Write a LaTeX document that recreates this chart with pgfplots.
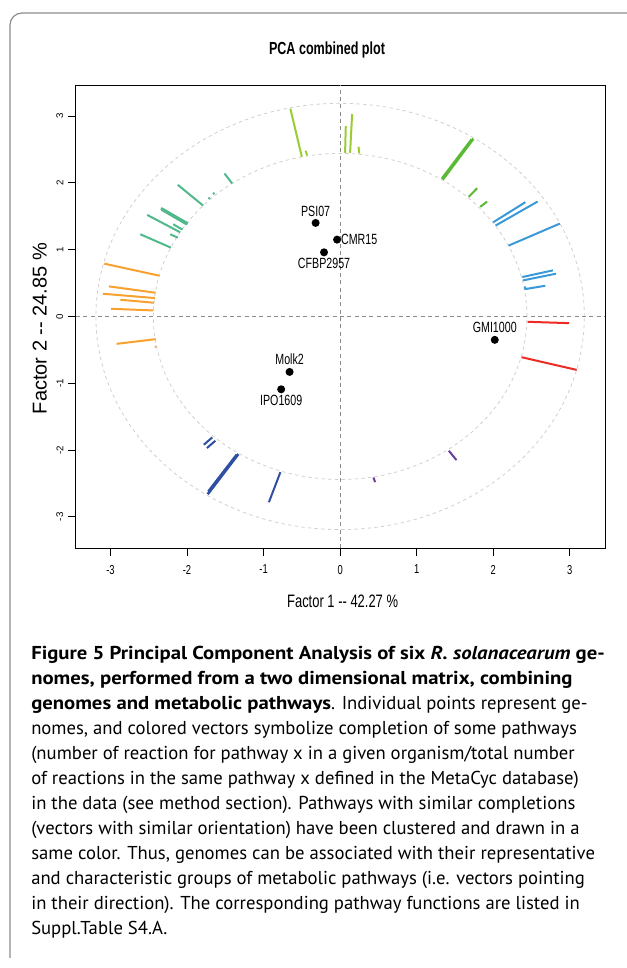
\documentclass[border=0pt]{standalone}
\usepackage{pgfplots}
\pgfplotsset{compat=1.18}
\usepackage{fontspec}
\setmainfont{PT Sans}[BoldFeatures={FakeStretch=1.11}, BoldItalicFeatures={FakeStretch=1.11}]
\newfontfamily\rfont[FakeStretch=0.72]{Liberation Sans}
\newfontfamily\rfontn{Liberation Sans}
\definecolor{cYG}{HTML}{9ACD32}
\definecolor{cG}{HTML}{5CB936}
\definecolor{cB}{HTML}{3A9AD8}
\definecolor{cR}{HTML}{EE2A24}
\definecolor{cT}{HTML}{4FB98B}
\definecolor{cO}{HTML}{F8A12F}
\definecolor{cDB}{HTML}{2E4FA2}
\definecolor{cP}{HTML}{6A3D9A}
\definecolor{frame}{HTML}{8C8C8C}
\definecolor{circ}{HTML}{CFCFCF}
\definecolor{zline}{HTML}{8A8A8A}
\begin{document}
\begin{tikzpicture}
\useasboundingbox (0,0) rectangle (470.25pt,726pt);
\begin{axis}[
  at={(57pt,314.775pt)}, anchor=south west,
  scale only axis, width=396.75pt, height=347.25pt,
  xmin=-3.45, xmax=3.46, ymin=-3.47, ymax=3.46,
  axis line style={line width=0.75pt},
  tick align=outside, major tick length=6pt, tick pos=left,
  tick style={black, line width=0.6pt},
  xtick={-3,-2,-1,0,1,2,3}, xticklabels={-3,-2,-1,0,1,2,3},
  ytick={-3,-2,-1,0,1,2,3}, yticklabels={-3,-2,-1,0,1,2,3},
  xticklabel style={font=\rfont\fontsize{9.75}{10}\selectfont, yshift=-3pt},
  yticklabel style={font=\rfontn\fontsize{7.3}{8}\selectfont, rotate=90, anchor=south},
  every axis plot/.append style={line width=1.5pt},
]
% reference circles and zero lines
\draw[circ, line width=0.6pt, dash pattern=on 2.5pt off 2.5pt] (axis cs:0,0) ellipse [x radius=2.44, y radius=2.44];
\draw[circ, line width=0.6pt, dash pattern=on 2.5pt off 2.5pt] (axis cs:0,0) ellipse [x radius=3.19, y radius=3.19];
\draw[zline, line width=0.6pt, dash pattern=on 3pt off 2.5pt] (axis cs:0,-3.47) -- (axis cs:0,3.46);
\draw[zline, line width=0.6pt, dash pattern=on 3pt off 2.5pt] (axis cs:-3.45,0) -- (axis cs:3.46,0);
% yellow-green
\addplot[cYG] coordinates {(-0.65,3.11) (-0.50,2.39)};
\addplot[cYG] coordinates {(-0.45,2.48) (-0.43,2.41)};
\addplot[cYG] coordinates {(0.074,2.85) (0.065,2.45)};
\addplot[cYG] coordinates {(0.157,3.03) (0.13,2.45)};
\addplot[cYG] coordinates {(0.24,2.54) (0.25,2.44)};
% green
\addplot[cG, line width=2pt] coordinates {(1.74,2.66) (1.34,2.05)};
\addplot[cG, line width=2pt] coordinates {(1.72,2.65) (1.33,2.06)};
\addplot[cG] coordinates {(1.79,1.92) (1.68,1.79)};
\addplot[cG] coordinates {(1.92,1.72) (1.83,1.64)};
% blue
\addplot[cB] coordinates {(2.42,1.71) (2.00,1.41)};
\addplot[cB] coordinates {(2.58,1.72) (2.03,1.36)};
\addplot[cB] coordinates {(2.87,1.39) (2.20,1.06)};
\addplot[cB] coordinates {(2.78,0.69) (2.38,0.59)};
\addplot[cB] coordinates {(2.82,0.64) (2.39,0.54)};
\addplot[cB] coordinates {(2.68,0.46) (2.42,0.41)};
\addplot[cB] coordinates {(2.415,0.45) (2.42,0.40)};
% red
\addplot[cR] coordinates {(2.45,-0.08) (2.99,-0.10)};
\addplot[cR] coordinates {(2.37,-0.61) (3.09,-0.80)};
% teal
\addplot[cT] coordinates {(-1.51,2.14) (-1.41,1.99)};
\addplot[cT] coordinates {(-1.72,1.76) (-1.70,1.78)};
\addplot[cT] coordinates {(-1.66,1.83) (-1.64,1.85)};
\addplot[cT] coordinates {(-2.12,1.97) (-1.79,1.66)};
\addplot[cT, line width=2pt] coordinates {(-2.34,1.62) (-1.99,1.39)};
\addplot[cT, line width=2pt] coordinates {(-2.33,1.60) (-2.00,1.38)};
\addplot[cT] coordinates {(-2.52,1.52) (-2.09,1.26)};
\addplot[cT] coordinates {(-2.18,1.38) (-2.06,1.30)};
\addplot[cT] coordinates {(-2.22,1.23) (-2.12,1.18)};
\addplot[cT] coordinates {(-2.61,1.23) (-2.21,1.03)};
% orange
\addplot[cO] coordinates {(-3.08,0.79) (-2.36,0.61)};
\addplot[cO] coordinates {(-3.02,0.45) (-2.41,0.355)};
\addplot[cO] coordinates {(-3.10,0.34) (-2.42,0.275)};
\addplot[cO] coordinates {(-2.87,0.25) (-2.43,0.205)};
\addplot[cO] coordinates {(-2.99,0.115) (-2.44,0.09)};
\addplot[cO] coordinates {(-2.92,-0.41) (-2.41,-0.34)};
\addplot[cO] coordinates {(-2.42,-0.45) (-2.40,-0.455)};
% dark blue
\addplot[cDB] coordinates {(-1.78,-1.92) (-1.67,-1.81)};
\addplot[cDB] coordinates {(-1.74,-1.97) (-1.63,-1.86)};
\addplot[cDB, line width=2pt] coordinates {(-1.33,-2.06) (-1.73,-2.66)};
\addplot[cDB, line width=2pt] coordinates {(-1.35,-2.07) (-1.72,-2.62)};
\addplot[cDB] coordinates {(-0.78,-2.33) (-0.93,-2.78)};
% purple
\addplot[cP] coordinates {(0.435,-2.41) (0.457,-2.48)};
\addplot[cP] coordinates {(1.42,-2.01) (1.52,-2.15)};
% genomes
\addplot[only marks, mark=*, mark size=2.2pt, black, point meta=explicit symbolic,
  nodes near coords, every node near coord/.append style={anchor=south, font=\rfont\fontsize{11.1}{12}\selectfont, yshift=1pt}]
  coordinates {(-0.32,1.40)[PSI07] (2.02,-0.35)[GMI1000] (-0.66,-0.83)[Molk2]};
\addplot[only marks, mark=*, mark size=2.2pt, black, point meta=explicit symbolic,
  nodes near coords, every node near coord/.append style={anchor=west, font=\rfont\fontsize{11.1}{12}\selectfont, xshift=-1pt}]
  coordinates {(-0.04,1.15)[CMR15]};
\addplot[only marks, mark=*, mark size=2.2pt, black, point meta=explicit symbolic,
  nodes near coords, every node near coord/.append style={anchor=north, font=\rfont\fontsize{11.1}{12}\selectfont}]
  coordinates {(-0.21,0.96)[CFBP2957] (-0.77,-1.09)[IPO1609]};
\end{axis}
\begin{scope}[shift={(0pt,726pt)}, x=0.75pt, y=-0.75pt]
\draw[frame, line width=0.9pt, rounded corners=9pt] (10,958) -- (10,13) -- (640,13);
\node[anchor=base, inner sep=0pt, font=\rfont\bfseries\fontsize{13.1}{14}\selectfont] at (327,54.5) {PCA combined plot};
\node[anchor=base, inner sep=0pt, font=\rfont\fontsize{13.5}{14}\selectfont] at (342.6,608) {Factor 1 -- 42.27 \%};
\node[anchor=base, inner sep=0pt, rotate=90, font=\rfontn\fontsize{15}{16}\selectfont] at (46.5,328.5) {Factor 2 -- 24.85 \%};
\begin{scope}[every node/.style={anchor=base west, inner sep=0pt, font=\fontsize{14}{16}\selectfont}]
\node at (31,660) {\textbf{Figure 5 Principal Component Analysis of six \textit{R. solanacearum} ge-}};
\node at (31,685) {\textbf{nomes, performed from a two dimensional matrix, combining}};
\node at (31,710) {\textbf{genomes and metabolic pathways}. Individual points represent ge-};
\node at (31,735) {nomes, and colored vectors symbolize completion of some pathways};
\node at (31,760) {(number of reaction for pathway x in a given organism/total number};
\node at (31,785) {of reactions in the same pathway x defined in the MetaCyc database)};
\node at (31,810) {in the data (see method section). Pathways with similar completions};
\node at (31,835) {(vectors with similar orientation) have been clustered and drawn in a};
\node at (31,860) {same color. Thus, genomes can be associated with their representative};
\node at (31,885) {and characteristic groups of metabolic pathways (i.e. vectors pointing};
\node at (31,910) {in their direction). The corresponding pathway functions are listed in};
\node at (31,935) {Suppl.Table S4.A.};
\end{scope}
\end{scope}
\end{tikzpicture}
\end{document}
